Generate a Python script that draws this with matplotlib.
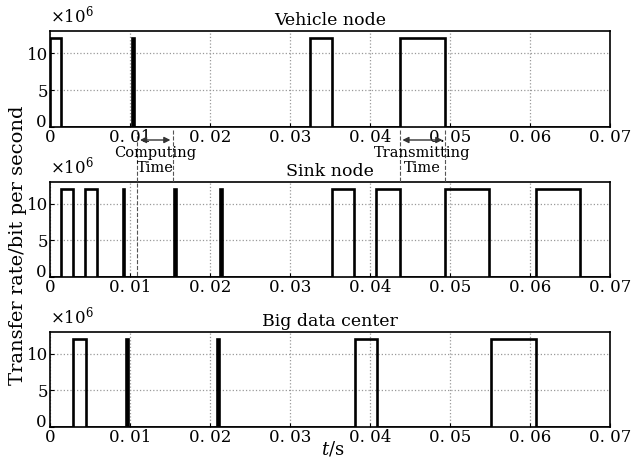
import numpy as np
import matplotlib
matplotlib.use("Agg")
import matplotlib.pyplot as plt
import matplotlib.transforms as mtransforms

titles = ["Vehicle node", "Sink node", "Big data center"]
# pulse start / end times (s) for each node
vehicle_start = [0.0000, 0.0103, 0.0325, 0.0437]
vehicle_end   = [0.0014, 0.0105, 0.0353, 0.0494]
sink_start = [0.0014, 0.0044, 0.0091, 0.0155, 0.0213, 0.0353, 0.0408, 0.0494, 0.0608]
sink_end   = [0.0029, 0.0059, 0.0093, 0.0157, 0.0215, 0.0380, 0.0437, 0.0549, 0.0663]
big_start = [0.0029, 0.0095, 0.0209, 0.0381, 0.0551]
big_end   = [0.0045, 0.0097, 0.0211, 0.0409, 0.0607]
pulse_level = 12e6
xticks = [0, 0.01, 0.02, 0.03, 0.04, 0.05, 0.06, 0.07]
xticklabels = ["0", "0. 01", "0. 02", "0. 03", "0. 04", "0. 05", "0. 06", "0. 07"]
yticks = [0, 5e6, 10e6]
yticklabels = ["0", "5", "10"]

series = [(vehicle_start, vehicle_end), (sink_start, sink_end), (big_start, big_end)]

plt.rcParams["font.family"] = "DejaVu Serif"
plt.rcParams["mathtext.fontset"] = "dejavuserif"

fig = plt.figure(figsize=(6.38, 4.59), dpi=100)
W, H = 638, 459
panels_px = [(31, 127), (182, 277), (332, 427)]
axes = []
for (top, bot), title, (st, en) in zip(panels_px, titles, series):
    ax = fig.add_axes([50 / W, 1 - bot / H, 560 / W, (bot - top) / H])
    xs = [0.0]
    ys = [0.0]
    for s, e in zip(st, en):
        xs += [s, s, e, e]
        ys += [0, pulse_level, pulse_level, 0]
    xs.append(0.07)
    ys.append(0)
    ax.plot(xs, ys, color="black", lw=1.9, solid_joinstyle="miter")
    ax.set_xlim(0, 0.07)
    ax.set_ylim(0, 13e6)
    ax.set_xticks(xticks)
    ax.set_xticklabels(xticklabels, fontsize=12)
    ax.set_yticks(yticks)
    ax.set_yticklabels(yticklabels, fontsize=12)
    ax.tick_params(direction="in", length=3, pad=1.5)
    ax.grid(True, linestyle=":", color="#999999", lw=0.9)
    for sp in ax.spines.values():
        sp.set_linewidth(1.2)
    ax.set_title(title, fontsize=12.5, pad=4)
    ax.text(0.0, 1.05, r"$\times10^6$", transform=ax.transAxes, fontsize=12,
            ha="left", va="bottom")
    # nudge the y "0" label up so it does not collide with the x "0" label
    lab0 = ax.get_yticklabels()[0]
    lab0.set_transform(lab0.get_transform() +
                       mtransforms.ScaledTranslation(-1 / 72, 5 / 72, fig.dpi_scale_trans))
    axes.append(ax)

# annotations: computing time and transmitting time
def fx(x):
    return (50 + x / 0.07 * 560) / W

def fy(y):
    return 1 - y / H

comp = (0.0109, 0.0154)
trans = (0.0437, 0.0494)
for (a, b), lab, low in [(comp, "Computing\nTime", 277), (trans, "Transmitting\nTime", 182)]:
    fig.add_artist(plt.Line2D([fx(a), fx(a)], [fy(130), fy(low)], color="#555555",
                              lw=0.8, ls="--"))
    fig.add_artist(plt.Line2D([fx(b), fx(b)], [fy(130), fy(182)], color="#555555",
                              lw=0.8, ls="--"))
    fig.patches.append(matplotlib.patches.FancyArrowPatch(
        (fx(a), fy(140)), (fx(b), fy(140)), transform=fig.transFigure,
        arrowstyle="<|-|>", mutation_scale=9, color="#333333", lw=1.0))
    fig.text((fx(a) + fx(b)) / 2, fy(146), lab, ha="center", va="top",
             fontsize=10.5, linespacing=1.1)

fig.text(18 / W, 1 - 245 / H, "Transfer rate/bit per second", rotation=90,
         ha="center", va="center", fontsize=14)
fig.text(333 / W, fy(458), r"$t$/s", ha="center", va="bottom", fontsize=13)

fig.savefig("out.png", dpi=100)
